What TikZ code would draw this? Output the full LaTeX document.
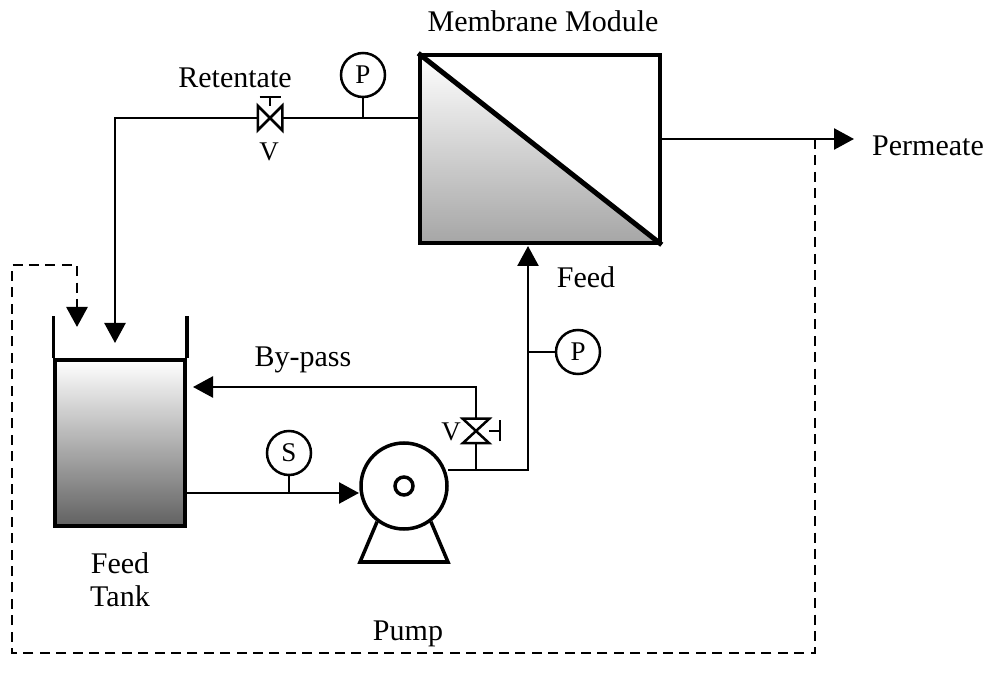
\documentclass[tikz,border=0pt]{standalone}
\usepackage{fontspec}
\setmainfont{Liberation Serif}
\usetikzlibrary{arrows.meta, positioning}

\newcommand{\valveh}[1]{\draw (#1.north west) -- (#1.south east) -- (#1.north east) -- (#1.south west) -- cycle;}
\newcommand{\valvev}[1]{\draw (#1.north west) -- (#1.north east) -- (#1.south west) -- (#1.south east) -- cycle;}

\begin{document}
\begin{tikzpicture}[x=0.5pt,y=-0.5pt,line width=1.25pt,>={Triangle[length=10pt,width=10.5pt]},
        every node/.style={font=\fontsize{15}{16.5}\selectfont},
        label/.style={inner sep=0pt,align=center},
        vessel/.style={draw,line width=1.75pt,inner sep=0pt},
        gauge/.style={circle,draw,inner sep=0pt,minimum size=22pt,font=\fontsize{13.5}{16}\selectfont},
        valve/.style={inner sep=0pt,minimum size=11pt},
        signal/.style={dashed,line width=1.4pt,dash pattern=on 5pt off 3.2pt}]

      \path[use as bounding box] (0,0) rectangle (990,683);

      % equipment
      \node[vessel,minimum width=120pt,minimum height=94pt,
            path picture={\shade[top color=white,bottom color=black!35]
              (path picture bounding box.north west) -- (path picture bounding box.south west)
              -- (path picture bounding box.south east) -- cycle;}] (module) at (540,149) {};
      \node[vessel,minimum width=65pt,minimum height=83pt,top color=white,bottom color=black!62] (tank) at (120,443) {};
      \node[circle,draw,line width=1.75pt,inner sep=0pt,minimum size=43pt] (pump) at (404,486) {};
      \node[circle,draw,line width=1.75pt,inner sep=0pt,minimum size=9pt] (impeller) at (pump) {};

      \draw[line width=2.5pt] (module.north west) -- (module.south east);
      \draw[line width=1.75pt] (tank.north west) -- ++(0,-42);
      \draw[line width=1.75pt] (tank.north east) -- ++(0,-42);
      \draw[line width=1.75pt] (pump.-127) -- (360,562) -- (448,562) -- (pump.-53);

      % instruments
      \node[gauge] (pretentate) at (363,75) {P};
      \node[gauge] (pfeed) at (578,352) {P};
      \node[gauge] (ssuction) at (289,453) {S};
      \node[valve] (vretentate) at (270,118) {};
      \node[valve,minimum width=12pt] (vbypass) at (476,431) {};
      \valveh{vretentate}
      \valvev{vbypass}

      % junctions
      \coordinate (retcorner) at (115,118);
      \coordinate (retin) at (115,343);
      \coordinate (retjoin) at (363,118);
      \coordinate (feedout) at (448,470);
      \coordinate (feedcorner) at (528,470);
      \coordinate (feedjoin) at (528,352);
      \coordinate (feedin) at (528,246);
      \coordinate (bypassjoin) at (476,470);
      \coordinate (bypasscorner) at (476,387);
      \coordinate (bypassin) at (193,387);
      \coordinate (permout) at (854,139);
      \coordinate (permjoin) at (815,139);
      \coordinate (tankout) at (186,493);
      \coordinate (pumpin) at (359,493);
      \coordinate (suctionjoin) at (289,493);
      \coordinate (handleh) at (270,97);
      \coordinate (handlev) at (500,431);

      % pipes
      \draw (retjoin -| module.west) -- (vretentate.east);
      \draw[->] (vretentate.west) -- (retcorner) -- (retin);
      \draw (pretentate) -- (retjoin);
      \draw (vretentate) -- (handleh);
      \draw ([xshift=-5.25pt]handleh) -- ([xshift=5.25pt]handleh);
      \draw[->] (feedout) -- (feedcorner) -- (feedin);
      \draw (pfeed) -- (feedjoin);
      \draw (bypassjoin) -- (vbypass.south);
      \draw[->] (vbypass.north) -- (bypasscorner) -- (bypassin);
      \draw (vbypass) -- (handlev);
      \draw ([yshift=-5.25pt]handlev) -- ([yshift=5.25pt]handlev);
      \draw[->] (tankout) -- (pumpin);
      \draw (ssuction) -- (suctionjoin);
      \draw[->] (permjoin -| module.east) -- (permout);

      % recycle signal
      \draw[->,signal] (permjoin) -- (815,653) -- (12,653) -- (12,265) -- (77,265) -- (77,327);

      % labels
      \node[label] (lmodule) at (543,21) {Membrane Module};
      \node[label] (lretentate) at (235,78) {Retentate};
      \node[label,font=\fontsize{13.5}{16}\selectfont] (lvret) at (269,152) {V};
      \node[label] (lperm) at (928,146) {Permeate};
      \node[label] (lfeed) at (586,277) {Feed};
      \node[label] (lbypass) at (303,360) {By-pass};
      \node[label,font=\fontsize{13.5}{16}\selectfont] (lvby) at (451,432) {V};
      \node[label] (ltank) at (120,580) {Feed\\Tank};
      \node[label] (lpump) at (408,634) {Pump};
\end{tikzpicture}
\end{document}
